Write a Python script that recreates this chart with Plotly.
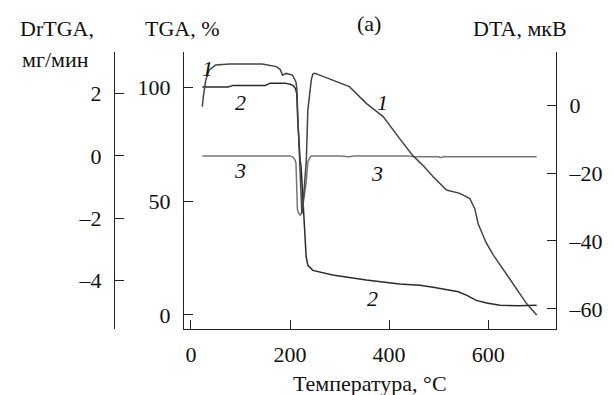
import plotly.graph_objects as go

# ---------------- data ----------------
# Curve 1: DTA, мкВ (right axis)
dta_x = [23, 25, 30, 37, 50, 78, 144, 172, 180, 185, 192, 205, 212, 214, 216, 219, 222, 224,
         227, 230, 233, 236, 240, 243, 246, 250, 260, 290, 320, 354, 388, 421, 448, 470, 489,
         516, 543, 563, 573, 580, 588, 596, 610, 624, 651, 678, 698]
dta_y = [-0.5, 2.4, 7.4, 10.3, 11.8, 12.1, 12.1, 11.3, 10.5, 8.8, 9.3, 8.8, 6.8, 4.4, -4.4, -16,
         -28, -32, -28, -22, -16, -1.5, 5, 7.4, 9.1, 9.3, 8.8, 7.2, 5.4, 0.5, -3.4, -9.8, -14.9,
         -18, -21.1, -25, -26, -27.5, -30.5, -35, -38, -40.5, -44, -47, -53, -58.5, -61.8]

# Curve 2: TGA, % (inner left axis)
tga_x = [23, 75, 85, 150, 160, 190, 200, 206, 211, 213.6, 215.7, 217.7, 220.5, 222.5, 224.5,
         227, 229, 231, 232.6, 236, 246, 286, 354, 421, 462, 489, 522, 540, 557, 576, 597, 624,
         660, 698]
tga_y = [100.3, 100.3, 101, 101, 102, 102, 101.5, 101, 99.6, 97.4, 85.6, 75.4, 68, 65, 57.8,
         47.6, 38.8, 31.5, 25.6, 21.8, 19.6, 17.6, 15.4, 13.6, 13.0, 12.2, 11.1, 10.2, 8.6, 6.4,
         5.2, 4.3, 4.0, 4.2]

# Curve 3: DrTGA, мг/мин (outer left axis)
drtga_x = [23, 100, 199, 205, 209, 212, 215, 218, 221, 224, 228, 232.6, 236, 240, 243, 300, 320,
           330, 440, 450, 500, 505, 510, 520, 698]
drtga_y = [0, 0, 0, -0.03, -0.1, -0.22, -1.73, -1.85, -1.9, -1.8, -1.4, -0.87, -0.2, -0.05, 0,
           0, -0.03, 0, 0, -0.03, -0.03, -0.06, -0.02, -0.03, -0.03]

x_ticks = [0, 200, 400, 600]
tga_ticks = [0, 50, 100]
drtga_ticks = [2, 0, -2, -4]
drtga_ticktext = ["2", "0", "\u20132", "\u20134"]
dta_ticks = [0, -20, -40, -60]
dta_ticktext = ["0", "\u201320", "\u201340", "\u201360"]

# ---------------- layout helpers ----------------
W, H = 614, 395
ML, MR, MT, MB = 114, 58, 52, 66
PW, PH = W - ML - MR, H - MT - MB


def px(xp):
    return (xp - ML) / PW


def py(yp):
    return (H - MB - yp) / PH


FONT = "Liberation Serif, Times New Roman, serif"
FS = 22
AX = "#222222"

fig = go.Figure()
fig.add_trace(go.Scatter(x=dta_x, y=dta_y, yaxis="y3", mode="lines",
                         line=dict(color="#444444", width=1.5)))
fig.add_trace(go.Scatter(x=tga_x, y=tga_y, yaxis="y", mode="lines",
                         line=dict(color="#2a2a2a", width=1.5)))
fig.add_trace(go.Scatter(x=drtga_x, y=drtga_y, yaxis="y2", mode="lines",
                         line=dict(color="#777777", width=1.5)))

common = dict(showline=True, linecolor=AX, linewidth=1.3, ticks="inside", ticklen=9,
              tickcolor=AX, tickwidth=1.3, showgrid=False, zeroline=False, automargin=False,
              tickfont=dict(family=FONT, size=FS, color="#111"))

fig.update_layout(
    width=W, height=H,
    margin=dict(l=ML, r=MR, t=MT, b=MB, autoexpand=False),
    paper_bgcolor="white", plot_bgcolor="white",
    showlegend=False,
    xaxis=dict(domain=[px(184), 1], range=[-14, 737], tickvals=x_ticks, anchor="y",
               ticklabelstandoff=5, **common),
    yaxis=dict(range=[-6.2, 115.7], tickvals=tga_ticks, anchor="x", side="left",
               ticklabelstandoff=8, **common),
    yaxis2=dict(range=[-5.55, 3.33], tickvals=drtga_ticks, ticktext=drtga_ticktext,
                overlaying="y", anchor="free", position=0, side="left",
                ticklabelstandoff=8, **common),
    yaxis3=dict(range=[-65.9, 15.6], tickvals=dta_ticks, ticktext=dta_ticktext,
                overlaying="y", anchor="x", side="right",
                ticklabelstandoff=8, **common),
)

labels = [
    ("DrTGA,", 57, 29),
    ("мг/мин", 55, 59),
    ("TGA, %", 182, 29),
    ("(a)", 369, 24),
    ("DTA, мкВ", 520, 29),
    ("Температура, °C", 370, 383),
    ("<i>1</i>", 207, 68),
    ("<i>1</i>", 382, 103),
    ("<i>2</i>", 240, 103),
    ("<i>2</i>", 372, 298),
    ("<i>3</i>", 240, 170),
    ("<i>3</i>", 377, 173),
]
for txt, xp, yp in labels:
    fig.add_annotation(text=txt, xref="paper", yref="paper", x=px(xp), y=py(yp),
                       xanchor="center", yanchor="middle", showarrow=False,
                       font=dict(family=FONT, size=FS, color="#111"))

fig.write_html("out.html", config={"displayModeBar": False},
               post_script="document.body.style.margin='0';document.body.style.overflow='hidden';")
